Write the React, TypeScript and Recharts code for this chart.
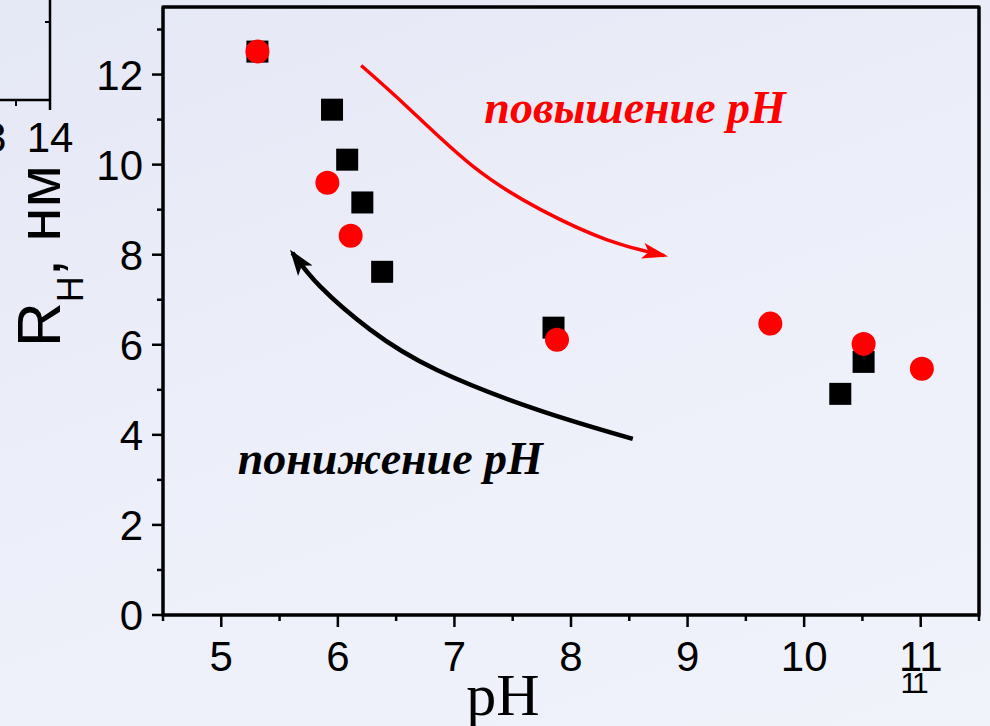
import { ComposedChart, Line, ReferenceArea, ReferenceDot, Scatter, XAxis, YAxis } from "recharts";

// black squares (понижение pH) and red circles (повышение pH)
const downPh = [5.31, 5.95, 6.08, 6.21, 6.38, 7.85, 10.31, 10.51];
const downR = [12.51, 11.22, 10.11, 9.16, 7.62, 6.38, 4.91, 5.62];
const upPh = [5.31, 5.91, 6.11, 7.88, 9.71, 10.51, 11.01];
const upR = [12.51, 9.6, 8.42, 6.11, 6.47, 6.02, 5.47];

// guide arrows
const upArrowPh = [6.2, 6.6, 7.16, 7.74, 8.31, 8.8];
const upArrowR = [12.2, 11.27, 9.96, 9.0, 8.33, 7.98];
const downArrowPh = [5.61, 5.85, 6.28, 6.85, 7.71, 8.53];
const downArrowR = [8.04, 7.29, 6.33, 5.44, 4.56, 3.91];

const xTicks = [4.5, 5, 5.5, 6, 6.5, 7, 7.5, 8, 8.5, 9, 9.5, 10, 10.5, 11, 11.5];
const yTicks = [0, 1, 2, 3, 4, 5, 6, 7, 8, 9, 10, 11, 12, 13];

const rows = (ph: number[], r: number[]) => ph.map((p, i) => ({ ph: p, r: r[i] }));

const SANS = "'Liberation Sans', Arial, sans-serif";
const SERIF = "'Liberation Serif', 'Times New Roman', serif";

const BottomTick = ({ x, y, payload }: any) => {
  const major = Number.isInteger(payload.value);
  return (
    <g>
      <line x1={x} x2={x} y1={y} y2={y + (major ? 12 : 6)} stroke="#000" strokeWidth={2.5} />
      {major && (
        <text x={x} y={y + 56} textAnchor="middle" fontSize={42} fontFamily={SANS} fill="#000">
          {payload.value}
        </text>
      )}
    </g>
  );
};

const LeftTick = ({ x, y, payload }: any) => {
  const major = payload.value % 2 === 0;
  return (
    <g>
      <line x1={x} x2={x - (major ? 11 : 6)} y1={y} y2={y} stroke="#000" strokeWidth={2.5} />
      {major && (
        <text x={x - 20} y={y + 15} textAnchor="end" fontSize={42} fontFamily={SANS} fill="#000">
          {payload.value}
        </text>
      )}
    </g>
  );
};

const TopTick = ({ x, y }: any) => <line x1={x} x2={x} y1={y} y2={y + 4} stroke="#000" strokeWidth={2} />;
const RightTick = ({ x, y }: any) => <line x1={x} x2={x - 4} y1={y} y2={y} stroke="#000" strokeWidth={2} />;

const PhTitle = () => (
  <text x={503} y={715} textAnchor="middle" fontSize={60} fontFamily={SERIF} fill="#000">
    pH
  </text>
);

const RTitle = () => (
  <text transform="translate(60,347) rotate(-90)" fontSize={62} fontFamily={SANS} fill="#000">
    <tspan>R</tspan>
    <tspan fontSize={36} dy={23}>H</tspan>
    <tspan dy={-23}>, нм</tspan>
  </text>
);

const square = (p: any) => <rect x={p.cx - 11} y={p.cy - 11} width={22} height={22} fill="#000" />;
const circle = (p: any) => <circle cx={p.cx} cy={p.cy} r={12} fill="#ff0000" />;

const note = {
  position: "center" as const,
  fontSize: 46,
  fontWeight: "bold",
  fontStyle: "italic",
  fontFamily: SERIF,
};

export default function App() {
  return (
    <div
      style={{
        position: "absolute",
        left: 0,
        top: 0,
        width: 990,
        height: 726,
        background: "linear-gradient(160deg, #e5e8f5 0%, #eceef9 45%, #f1f3fb 100%)",
      }}
    >
      <ComposedChart width={990} height={726} margin={{ top: 6, right: 10, bottom: 0, left: 0 }}>
        <XAxis
          xAxisId="top"
          orientation="top"
          type="number"
          dataKey="ph"
          domain={[4.5, 11.5]}
          ticks={xTicks}
          interval={0}
          height={1}
          tickSize={0}
          tickMargin={0}
          tickLine={false}
          tick={<TopTick />}
          axisLine={{ stroke: "#000", strokeWidth: 3 }}
        />
        <XAxis
          type="number"
          dataKey="ph"
          domain={[4.5, 11.5]}
          ticks={xTicks}
          interval={0}
          height={111}
          tickSize={0}
          tickMargin={0}
          tickLine={false}
          tick={<BottomTick />}
          axisLine={{ stroke: "#000", strokeWidth: 3 }}
          label={<PhTitle />}
        />
        <YAxis
          type="number"
          dataKey="r"
          domain={[0, 13.5]}
          ticks={yTicks}
          interval={0}
          width={163}
          tickSize={0}
          tickMargin={0}
          tickLine={false}
          tick={<LeftTick />}
          axisLine={{ stroke: "#000", strokeWidth: 3 }}
          label={<RTitle />}
        />
        <YAxis
          yAxisId="right"
          orientation="right"
          type="number"
          domain={[0, 13.5]}
          ticks={yTicks}
          interval={0}
          width={1}
          tickSize={0}
          tickMargin={0}
          tickLine={false}
          tick={<RightTick />}
          axisLine={{ stroke: "#000", strokeWidth: 3 }}
        />
        <ReferenceArea x1={4.5} x2={11.5} y1={0} y2={13.5} fill="none" stroke="#000" strokeWidth={3} />
        <Line
          data={rows(upArrowPh, upArrowR)}
          dataKey="r"
          type="natural"
          stroke="#ff0000"
          strokeWidth={3.5}
          dot={false}
          activeDot={false}
          markerEnd="url(#arrowRed)"
          isAnimationActive={false}
        />
        <Line
          data={rows(downArrowPh, downArrowR)}
          dataKey="r"
          type="natural"
          stroke="#000"
          strokeWidth={4.5}
          dot={false}
          activeDot={false}
          markerStart="url(#arrowBlack)"
          isAnimationActive={false}
        />
        <Scatter data={rows(downPh, downR)} shape={square} isAnimationActive={false} />
        <Scatter data={rows(upPh, upR)} shape={circle} isAnimationActive={false} />
        <ReferenceDot x={8.55} y={11.29} r={0} fill="none" stroke="none" label={{ ...note, value: "повышение pH", fill: "#ff0000" }} />
        <ReferenceDot x={6.45} y={3.5} r={0} fill="none" stroke="none" label={{ ...note, value: "понижение pH", fill: "#000" }} />
      </ComposedChart>

      <svg width={990} height={726} style={{ position: "absolute", left: 0, top: 0, pointerEvents: "none" }}>
        <defs>
          <marker id="arrowRed" markerUnits="userSpaceOnUse" viewBox="0 0 26 18" markerWidth={26} markerHeight={18} refX={22} refY={9} orient="auto">
            <path d="M0,1 L26,9 L0,17 L6,9 Z" fill="#ff0000" />
          </marker>
          <marker id="arrowBlack" markerUnits="userSpaceOnUse" viewBox="0 0 26 20" markerWidth={26} markerHeight={20} refX={22} refY={10} orient="auto-start-reverse">
            <path d="M0,1 L26,10 L0,19 L6,10 Z" fill="#000" />
          </marker>
        </defs>
        {/* remains of the neighbouring inset plot */}
        <line x1={50} x2={50} y1={0} y2={110} stroke="#000" strokeWidth={2.5} />
        <line x1={0} x2={50} y1={100} y2={100} stroke="#000" strokeWidth={2.5} />
        <line x1={16} x2={16} y1={100} y2={106} stroke="#000" strokeWidth={2} />
        <line x1={50} x2={45} y1={22} y2={22} stroke="#000" strokeWidth={2} />
        <text x={50} y={152} textAnchor="middle" fontSize={42} fontFamily={SANS} fill="#000">14</text>
        <text x={-17} y={152} textAnchor="middle" fontSize={42} fontFamily={SANS} fill="#000">13</text>
        <text x={913} y={693} textAnchor="middle" fontSize={30} fontFamily={SANS} letterSpacing={-3} fill="#000">11</text>
      </svg>
    </div>
  );
}
